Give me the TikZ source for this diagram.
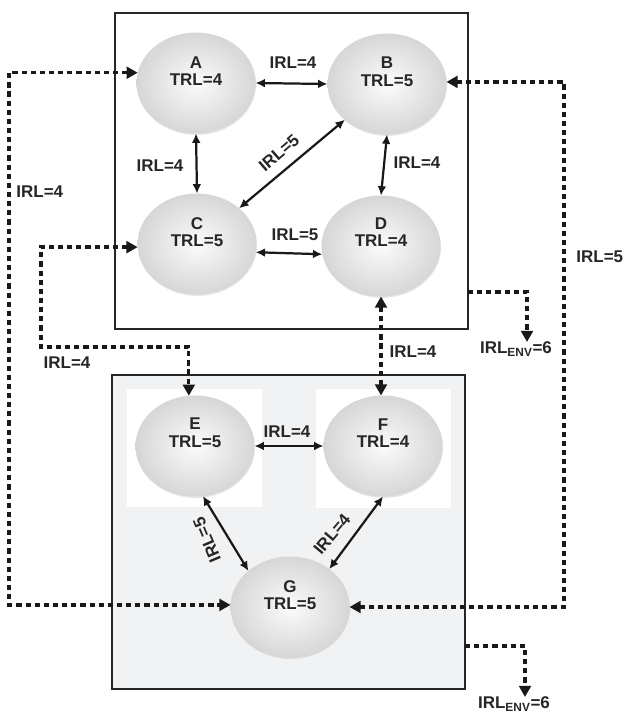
\documentclass[tikz,border=0pt]{standalone}
\usepackage{fontspec}
\setmainfont{Liberation Sans}
\usetikzlibrary{calc,shapes.geometric,shadows,arrows.meta}
\definecolor{clusterfill}{RGB}{241,242,244}

\begin{document}
\begin{tikzpicture}[
  x=0.03cm, y=-0.03cm,
  font=\fontsize{14.5}{15}\selectfont\bfseries,
  cluster/.style={
    rectangle,
    draw=black!85,
    line width=1.8pt,
    minimum width=10.59cm, minimum height=9.48cm,
    outer sep=0pt
  },
  patch/.style={
    rectangle,
    fill=white,
    minimum width=4.05cm, minimum height=3.54cm,
    outer sep=0pt
  },
  unit/.style={
    ellipse,
    minimum width=3.57cm, minimum height=3.03cm,
    inner sep=0pt, outer sep=0pt,
    shade, inner color=gray!3, outer color=gray!32,
    drop shadow={shadow xshift=0.5pt, shadow yshift=-1.2pt, opacity=0.2}
  },
  unit text/.style={
    align=center,
    inner sep=0pt,
    text=black!85
  },
  irl/.style={
    inner sep=1pt,
    text=black!85
  },
  link/.style={
    line width=1.9pt,
    draw=black!90,
    {Latex[length=8pt,width=7.5pt]}-{Latex[length=8pt,width=7.5pt]}
  },
  remote/.style={
    line width=2.8pt,
    draw=black!90,
    dash pattern=on 4.4pt off 3.4pt,
    >={Triangle[length=9.5pt,width=10pt]}
  }
  ]
\useasboundingbox (0,0) rectangle (624,713);
% Clusters
\node [cluster] (top box) at (291.5,171) {};
\node [cluster, fill=clusterfill, minimum height=9.42cm] (bottom box) at (288.5,532) {};
\node [patch] (E patch) at (194.5,448) {};
\node [patch] (F patch) at (383,448.5) {};
% Units, top cluster
\node [unit] (A) at (196,83) {};
\node [unit] (B) at (387,84) {};
\node [unit] (C) at (197,244) {};
\node [unit] (D) at (381,246) {};
\node [unit text] (A text) at ($(A)+(0,-12)$) {A\\TRL=4};
\node [unit text] (B text) at ($(B)+(0,-12)$) {B\\TRL=5};
\node [unit text] (C text) at ($(C)+(0,-12)$) {C\\TRL=5};
\node [unit text] (D text) at ($(D)+(0,-14)$) {D\\TRL=4};
% Units, bottom cluster
\node [unit] (E) at (195,446) {};
\node [unit] (F) at (383,446) {};
\node [unit] (G) at (290,607) {};
\node [unit text] (E text) at ($(E)+(0,-13)$) {E\\TRL=5};
\node [unit text] (F text) at ($(F)+(0,-13)$) {F\\TRL=4};
\node [unit text] (G text) at ($(G)+(0,-12)$) {G\\TRL=5};
% Links inside clusters
\draw [link] (A.east) -- (B.west);
\draw [link] (A.south) -- (C.north);
\draw [link] (B.south) -- (D.north);
\draw [link] (C.north east) -- (B.south west);
\draw [link] (C.-8) -- (D.188);
\draw [link] (E.east) -- (F.west);
\draw [link] (E.-81) -- (G.139);
\draw [link] (F.south) -- (G.44);
\node [irl] (irl AB) at (293,63) {IRL=4};
\node [irl] (irl AC) at (160,166) {IRL=4};
\node [irl] (irl BD) at (417,163) {IRL=4};
\node [irl, rotate=41] (irl CB) at (279,153) {IRL=5};
\node [irl] (irl CD) at (295,235) {IRL=5};
\node [irl] (irl EF) at (287,432) {IRL=4};
\node [irl, rotate=113] (irl EG) at (207,540) {IRL=5};
\node [irl, rotate=50] (irl FG) at (332,534) {IRL=4};
% Links between clusters
\coordinate (rail left) at (9,0);
\coordinate (rail right) at (564,0);
\coordinate (rail C) at (41,347);
\draw [remote, <->] (A.170) -- (A.170 -| rail left) -- (G.178 -| rail left) -- (G.178);
\draw [remote, <->] (C.183) -- (C.183 -| rail C) -- (rail C) -- (rail C -| E.97) -- (E.97);
\draw [remote, <->] (B.2) -- (B.2 -| rail right) -- (G.east -| rail right) -- (G.east);
\draw [remote, <->] (D.south) -- (D.south |- F.north);
\node [irl, anchor=west] (irl AG) at (15,192) {IRL=4};
\node [irl] (irl CE) at (67,363) {IRL=4};
\node [irl, anchor=west] (irl BG) at (575,257) {IRL=5};
\node [irl] (irl DF) at (413,352) {IRL=4};
% Environment
\coordinate (env top bend) at (527,292);
\coordinate (env top) at (527,342);
\coordinate (env bottom bend) at (525,646);
\coordinate (env bottom) at (525,697);
\draw [remote, ->] (env top bend -| top box.east) -- (env top bend) -- (env top);
\draw [remote, ->] (env bottom bend -| bottom box.east) -- (env bottom bend) -- (env bottom);
\node [irl] (env top label) at (516,349) {IRL\textsubscript{ENV}=6};
\node [irl] (env bottom label) at (514,704) {IRL\textsubscript{ENV}=6};
\end{tikzpicture}
\end{document}
